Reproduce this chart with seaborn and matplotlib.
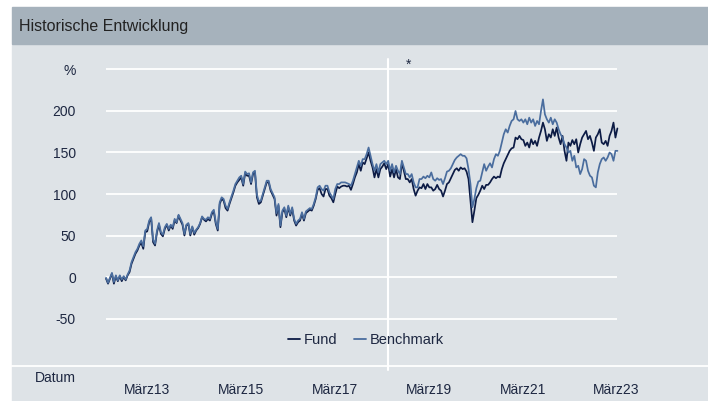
import pandas as pd
import seaborn as sns
import matplotlib.pyplot as plt
from matplotlib.lines import Line2D
from matplotlib.patches import Rectangle
from matplotlib.transforms import offset_copy

sns.set_style('white')
plt.rcParams['font.family'] = ['Liberation Sans', 'DejaVu Sans']

# data
START = '2012-04-15'
END = '2023-03-08'
MARK_DATE = '2018-04-20'

fund = [
    -2, -8, -2, 4, -8, 1, -5, 1, -5, 0, -4, 2, 6, 16, 22, 28, 32, 38, 41, 34,
    54, 55, 66, 71, 42, 38, 54, 63, 52, 49, 58, 63, 56, 62, 58, 68, 65, 74,
    68, 63, 50, 62, 64, 50, 60, 51, 56, 59, 64, 72, 69,
    67, 70, 68, 76, 79, 64, 56, 88, 94, 92, 83, 80, 88, 95, 102, 110, 114,
    117, 120, 110, 125, 122, 122, 112, 124, 126, 96, 88, 90, 98, 106, 114,
    114, 104, 99, 94, 74, 86, 60, 78, 82, 72, 84, 74, 82, 68, 62, 66, 68, 76,
    68, 77, 79, 81,
    80, 86, 94, 105, 107, 100, 97, 106, 106, 98, 95, 90, 100, 109, 107, 109,
    110, 110, 109, 110, 105, 112, 120, 126, 136, 128, 138, 136, 143, 150,
    140, 132, 120, 130, 120, 130, 133, 137, 130, 136, 121, 130, 120, 130,
    120, 118, 137, 128, 118, 118, 114, 118, 106, 98,
    104, 108, 107, 112, 106, 112, 108, 108, 104, 106, 111, 106, 104, 97, 104,
    112, 114, 119, 124, 129, 131, 128, 132, 130, 131, 127, 118, 92, 66, 80,
    95, 99, 104, 110, 106, 111, 111, 114, 118, 121, 119, 121, 120, 130, 137,
    142, 147, 152, 155, 156, 168, 166, 170, 166,
    165, 158, 162, 156, 166, 160, 164, 158, 168, 176, 186, 178, 164, 172,
    168, 178, 170, 180, 168, 160, 170, 152, 140, 162, 158, 165, 160, 166,
    150, 160, 168, 172, 176, 166, 170, 162, 152, 168, 172, 178, 162, 160,
    164, 158, 170, 176, 186, 168, 179,
]
benchmark = [
    -1, -7, -1, 5, -6, 2, -4, 2, -3, 1, -3, 3, 8, 18, 24, 30, 34, 40, 44, 37,
    56, 58, 68, 72, 45, 40, 56, 65, 54, 51, 60, 64, 58, 63, 60, 70, 66, 75,
    70, 65, 52, 63, 65, 52, 61, 53, 57, 60, 65, 73, 70,
    69, 72, 70, 78, 81, 66, 58, 90, 96, 94, 86, 82, 90, 97, 104, 112, 116,
    120, 122, 112, 127, 124, 125, 114, 126, 128, 99, 91, 92, 100, 108, 116,
    116, 106, 101, 96, 77, 88, 62, 80, 84, 74, 86, 76, 84, 70, 64, 68, 70, 78,
    70, 79, 81, 83,
    82, 88, 96, 108, 110, 106, 104, 110, 110, 102, 98, 94, 106, 112, 112,
    114, 114, 114, 113, 112, 110, 116, 124, 132, 140, 134, 142, 142, 148,
    156, 146, 136, 128, 136, 126, 136, 138, 140, 136, 140, 128, 136, 126,
    134, 128, 124, 140, 132, 124, 124, 120, 124, 114, 108,
    108, 118, 118, 121, 119, 122, 120, 126, 118, 116, 119, 117, 118, 112,
    119, 127, 128, 131, 136, 141, 144, 146, 148, 146, 146, 143, 130, 112, 84,
    94, 107, 115, 116, 126, 136, 128, 133, 137, 132, 142, 148, 146, 152, 162,
    172, 178, 174, 182, 188, 190, 200, 190, 188, 190,
    186, 190, 184, 192, 186, 190, 182, 188, 184, 200, 214, 196, 190, 186,
    192, 184, 190, 186, 178, 172, 168, 160, 156, 150, 152, 140, 146, 132,
    134, 124, 130, 142, 140, 128, 122, 120, 110, 108, 126, 136, 142, 144,
    140, 144, 150, 148, 140, 152, 152,
]
y_ticks = [250, 200, 150, 100, 50, 0, -50]
y_labels = ['%', '200', '150', '100', '50', '0', '-50']
x_tick_dates = ['2013-03-01', '2015-03-01', '2017-03-01',
                '2019-03-01', '2021-03-01', '2023-03-01']
x_labels = ['März13', 'März15', 'März17', 'März19', 'März21', 'März23']

FUND_C = '#0c1b45'
BENCH_C = '#4a6d9e'
PANEL_C = '#dee3e7'
BAR_C = '#a6b2bc'
TEXT_C = '#1d2741'

W, H = 708, 401


def fx(px):
    return px / W


def fy(py):
    return 1 - py / H


dates = pd.date_range(START, END, periods=len(fund))
df = pd.DataFrame({'Datum': dates, 'Fund': fund, 'Benchmark': benchmark})
df = df.melt('Datum', var_name='Serie', value_name='Wert')

fig = plt.figure(figsize=(W / 100, H / 100), dpi=100)
fig.patch.set_facecolor('white')
fig.add_artist(Rectangle((fx(12), 0), 1 - fx(12), fy(45),
                         transform=fig.transFigure, color=PANEL_C, zorder=-2))
fig.add_artist(Rectangle((fx(12), fy(44)), 1 - fx(12), fy(7) - fy(44),
                         transform=fig.transFigure, color=BAR_C, zorder=-2))
fig.text(fx(19), fy(26), 'Historische Entwicklung', ha='left', va='center',
         fontsize=11.5, color='#222222')

ax = fig.add_axes([fx(12), fy(366), 1 - fx(12), fy(45) - fy(366)])
ax.set_facecolor('none')

ax.hlines(y_ticks, dates[0], dates[-1], colors='white', lw=1.3, zorder=1)
ax.axvline(pd.Timestamp(MARK_DATE), ymin=-0.012, ymax=0.956, color='white',
           lw=1.5, clip_on=False, zorder=1)

sns.lineplot(data=df, x='Datum', y='Wert', hue='Serie',
             hue_order=['Fund', 'Benchmark'],
             palette={'Fund': FUND_C, 'Benchmark': BENCH_C},
             linewidth=1.25, legend=False, ax=ax, zorder=2)

ax.set_xlim(pd.Timestamp('2010-04-14'), pd.Timestamp('2025-02-10'))
ax.set_ylim(-107.2, 279.5)
ax.set_xlabel('')
ax.set_ylabel('')

ax.set_yticks(y_ticks, y_labels)
ax.tick_params(axis='y', length=0, pad=-46, labelsize=10, labelcolor=TEXT_C)
ax.set_xticks(pd.to_datetime(x_tick_dates), x_labels)
ax.tick_params(axis='x', length=8.5, width=1.2, color='white', pad=4,
               labelsize=10, labelcolor=TEXT_C, direction='out')
for side in ['top', 'right', 'left']:
    ax.spines[side].set_visible(False)
ax.spines['bottom'].set_color('white')
ax.spines['bottom'].set_linewidth(1.3)

fig.text(fx(76), fy(378), 'Datum', ha='right', va='center',
         fontsize=10, color=TEXT_C)

star_tr = offset_copy(ax.get_xaxis_transform(), fig=fig, x=20, y=0,
                      units='dots')
ax.text(pd.Timestamp(MARK_DATE), 0.96, '*', transform=star_tr,
        ha='center', va='top', fontsize=10, color=TEXT_C)

handles = [Line2D([], [], color=FUND_C, lw=1.3),
           Line2D([], [], color=BENCH_C, lw=1.3)]
ax.legend(handles, ['Fund', 'Benchmark'], ncol=2, frameon=False,
          loc='center', bbox_to_anchor=(fx(366), fy(340)),
          bbox_transform=fig.transFigure, handlelength=0.85,
          handletextpad=0.25, columnspacing=1.1, fontsize=10.5,
          labelcolor=TEXT_C, borderpad=0)

fig.savefig('out.png', dpi=100)
